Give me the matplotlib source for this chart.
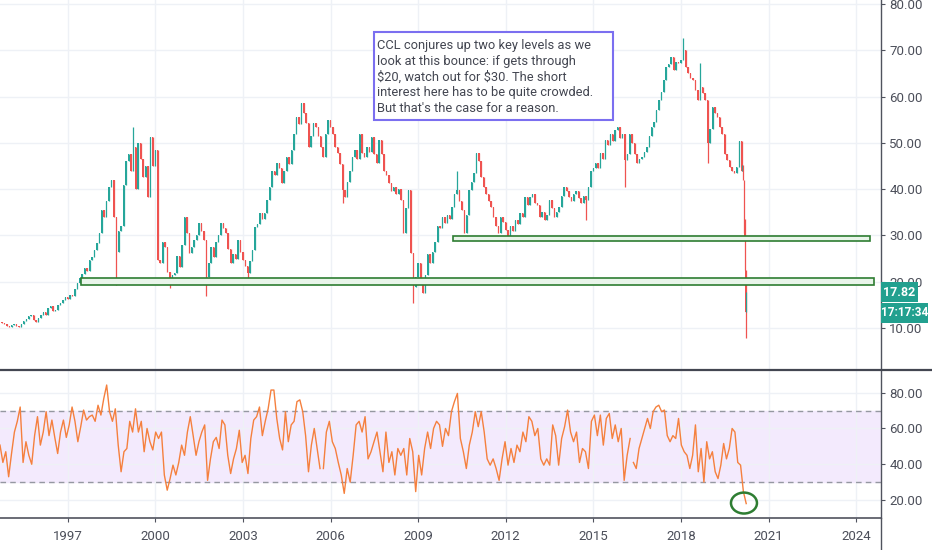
import matplotlib
matplotlib.use("Agg")
import matplotlib.pyplot as plt
import matplotlib.dates as mdates
from matplotlib.patches import Rectangle, Ellipse
from matplotlib.lines import Line2D
import numpy as np
import pandas as pd

# ---- data ----
# monthly closes, Sep 1994 .. Jan 2020
closes = [
    11.0, 10.8, 10.5, 10.2, 10.6, 10.9, 10.4, 10.2, 10.9, 11.5, 11.9, 12.5,
    12.8, 11.8, 11.3, 12.2, 12.9, 13.4, 12.7, 14.3, 14.8, 13.6, 13.9, 14.9,
    15.3, 16.0, 16.6, 16.2, 17.2, 17.0, 18.4, 19.7, 20.8, 21.6, 23.0, 22.4,
    24.6, 25.4, 26.8, 28.3, 30.5, 35.5, 34.0, 37.5, 40.5, 42.0, 34.0, 26.5,
    31.0, 32.0, 41.0, 46.0, 47.5, 44.0, 49.0, 40.0, 50.0, 46.5, 42.6, 45.0,
    38.3, 51.3, 45.0, 48.5, 24.7, 24.0, 28.5, 27.5, 22.0, 19.7, 21.5, 21.8,
    25.5, 23.2, 28.0, 34.0, 30.5, 26.2, 27.5, 29.0, 30.0, 32.7, 31.0, 29.0,
    21.0, 24.0, 27.5, 25.4, 28.5, 30.0, 32.6, 31.5, 30.5, 27.0, 24.0, 26.0,
    25.0, 29.0, 26.5, 24.7, 23.5, 21.8, 24.5, 26.8, 31.8, 32.5, 34.8, 33.5,
    34.8, 37.6, 40.5, 44.0, 43.0, 45.6, 44.5, 41.3, 44.0, 47.0, 45.5, 48.5,
    52.0, 55.6, 54.0, 58.6, 56.5, 54.3, 49.0, 51.5, 54.3, 53.5, 51.5, 49.0,
    47.0, 52.0, 55.0, 53.5, 52.0, 49.0, 47.8, 45.5, 39.8, 38.3, 41.5, 44.0,
    47.0, 48.5, 46.5, 52.0, 47.8, 47.0, 49.0, 48.0, 51.3, 47.5, 45.6, 50.6,
    47.5, 44.0, 43.0, 41.3, 39.5, 40.5, 39.0, 40.0, 37.6, 30.5, 36.0, 39.8,
    26.2, 18.9, 21.0, 24.0, 20.0, 17.5, 21.5, 26.0, 24.0, 26.5, 28.5, 32.0,
    31.5, 34.0, 32.6, 34.5, 33.5, 36.2, 39.0, 39.8, 37.5, 35.5, 30.5, 34.5,
    39.8, 41.5, 43.4, 47.8, 46.0, 42.6, 40.5, 39.0, 37.5, 36.2, 34.0, 32.0,
    30.5, 34.0, 33.0, 31.2, 29.8, 32.0, 31.0, 33.3, 32.5, 34.8, 34.0, 38.3,
    36.5, 38.3, 39.0, 37.0, 36.5, 34.0, 35.0, 33.3, 34.5, 37.6, 36.0, 34.0,
    35.0, 36.2, 38.5, 40.5, 39.5, 38.3, 37.5, 39.0, 39.5, 38.0, 37.0, 38.5,
    37.6, 40.5, 44.0, 44.5, 45.6, 44.5, 47.8, 46.5, 50.6, 49.5, 52.0, 50.5,
    52.8, 53.5, 51.0, 52.0, 46.3, 47.5, 52.0, 50.0, 47.5, 45.6, 46.5, 47.0,
    48.0, 49.0, 51.5, 53.5, 54.5, 57.0, 59.3, 61.0, 63.6, 66.4, 67.0, 68.5,
    65.7, 67.5, 67.2, 68.0, 70.0, 66.4, 65.0, 64.0, 63.6, 61.5, 59.3, 62.0,
    60.7, 59.3, 50.0, 53.0, 57.7, 56.5, 55.6, 53.5, 52.0, 47.5, 46.3, 44.8,
    44.0, 43.4, 44.8, 50.5, 44.0,
]
first_open = 11.2

# weekly bars of the 2020 crash
crash_dates = ['2020-02-07', '2020-02-14', '2020-02-21', '2020-02-28',
               '2020-03-06', '2020-03-13', '2020-03-20', '2020-03-27']
crash_closes = [45.2, 43.5, 42.0, 33.5, 29.0, 22.5, 13.5, 17.82]

# wicks that stick out of the bodies
wick_dates = ['1998-08-31', '1999-03-31', '2000-06-30', '2001-09-30', '2003-02-28',
              '2006-05-31', '2008-10-31', '2010-04-30', '2014-09-30', '2016-01-31',
              '2018-01-31', '2018-08-31', '2018-11-30', '2020-02-28', '2020-03-20']
wick_prices = [19.3, 53.5, 18.6, 17.0, 20.5, 37.0, 15.3, 44.0, 33.3, 40.5,
               72.7, 67.2, 45.6, 30.5, 7.8]

# weekly RSI, read in three stretches
rsi_a = [50.7, 41, 47, 33, 46, 58, 64, 72, 41, 52.6, 45, 40, 56, 66.6, 50.7, 58,
         69.4, 56, 64.7, 55, 46, 58, 64.7, 55, 62, 72, 64, 52.6, 61, 70.3, 64.7,
         66.6, 67.5, 64, 73, 67.5, 76.8, 84.3, 69.4, 64, 71, 50.7, 35.8, 47, 48.8,
         64, 58, 71, 58, 64, 47, 60, 52.6, 48, 58, 54.4, 58, 34, 25.5, 32, 39.5,
         34, 41, 50.7, 45, 58, 66.6, 56, 45, 52.6, 58, 62, 31, 43, 52.6, 55, 48.8,
         64.7, 62, 45, 34.8, 43, 48.8, 59, 41, 45, 34.8, 54.4, 64.7, 66.6, 72, 56,
         64, 71, 81.5, 81.5, 65.6, 54.4, 48, 69.4, 52.6, 62, 64, 75, 76, 69.4, 56,
         35.8, 50.7, 60, 48.8, 37.6]
rsi_b = [37.6, 58, 64, 52.6, 48.8, 41, 34, 23.7, 37.6, 30, 45, 62, 64, 58, 66.6,
         43, 47, 52.6, 58, 47, 35.8, 58, 41, 47, 34, 48.8, 45, 48.8, 34, 54.4, 47,
         24.7, 45, 34, 48.8, 58, 48.8, 60, 64, 62, 50, 60, 56, 69.4, 75, 79.6, 54.4,
         47, 37.6, 50.7, 58, 69.4, 61, 69.4, 58, 43, 39.5, 43, 37.6, 31, 43, 52.6,
         39.5, 48.8, 41, 50.7, 47, 58, 52.6, 66.6, 64, 56, 60, 43, 39.5, 43, 39.5,
         62, 56, 39.5, 54.4, 61, 70.3, 58, 52.6, 58, 41, 48.8, 47, 37.6, 64, 67.5,
         56, 67.5, 50.7, 65.6, 68.4, 54.4, 62, 52.6, 60, 31, 45, 54.4]
rsi_c = [41, 37.6, 48.8, 54.4, 60, 65.6, 60, 69.4, 72, 73, 69.4, 70.3, 56, 52.6,
         56, 54.4, 65.6, 50.7, 47, 45, 37.6, 45, 62, 35.8, 48.8, 30, 52.6, 43, 47,
         35.8, 32, 39.5, 51.6, 43, 48.8, 60, 58, 41, 39.5, 24.7, 18]
rsi_spans = [('1994-09-06', '2005-08-22'), ('2005-10-03', '2016-04-05'),
             ('2016-05-16', '2020-03-27')]

# support zones
zone_starts = ['1997-06-16', '2010-03-13']
zone_ends = ['2024-08-11', '2024-06-24']
zone_lows = [19.3, 28.8]
zone_highs = [20.9, 29.8]

last_price = 17.82
countdown = '17:17:34'
note = ["CCL conjures up two key levels as we",
        "look at this bounce: if gets through",
        "$20, watch out for $30. The short",
        "interest here has to be quite crowded.",
        "But that's the case for a reason."]

# ---- style ----
plt.rcParams['font.family'] = ['Roboto', 'DejaVu Sans']
UP, DN = '#26a69a', '#ef5350'
GRID = '#eef1f6'
TXT = '#4c4f5a'
LINE = '#50535e'
W, H = 932, 550

fig = plt.figure(figsize=(W / 100, H / 100), dpi=100)
ax = fig.add_axes([0, 1 - 369 / H, 881 / W, 369 / H])
rx = fig.add_axes([0, 1 - 518 / H, 881 / W, 148 / H])

x0, x1 = pd.Timestamp('1994-09-06'), pd.Timestamp('2024-11-07')
years = [pd.Timestamp(f'{y}-01-01') for y in range(1997, 2025, 3)]

# candles
dates = list(pd.date_range('1994-09-30', periods=len(closes), freq='ME')) + \
    list(pd.to_datetime(crash_dates))
c = np.array(closes + crash_closes, dtype=float)
o = np.r_[first_open, c[:-1]]
hi = np.maximum(o, c)
lo = np.minimum(o, c)
body_lo = lo.copy()
for d, p in zip(wick_dates, wick_prices):
    i = dates.index(pd.Timestamp(d))
    if p > hi[i]:
        hi[i] = p
    else:
        lo[i] = p
up = c >= o
cols = np.where(up, UP, DN)
xd = mdates.date2num(dates)
widths = [18] * len(closes) + [5] * len(crash_closes)

ax.vlines(xd, lo, hi, colors=cols, lw=0.9, zorder=3)
ax.bar(xd, np.maximum(np.abs(c - o), 0.2), bottom=body_lo, width=widths,
       color=cols, linewidth=0, zorder=3)

for s, e, l, h in zip(zone_starts, zone_ends, zone_lows, zone_highs):
    xs, xe = mdates.date2num(pd.Timestamp(s)), mdates.date2num(pd.Timestamp(e))
    ax.add_patch(Rectangle((xs, l), xe - xs, h - l, facecolor='#e9f5ea',
                           edgecolor='#2e7d32', lw=1.2, zorder=4))

ax.set_xlim(x0, x1)
ax.set_ylim(1.14, 80.86)
ax.set_yticks(range(10, 81, 10))
ax.set_xticks(years)
ax.grid(True, color=GRID, lw=1)
ax.set_axisbelow(True)
ax.tick_params(axis='x', length=0, labelbottom=False)

# RSI
for vals, (s, e) in zip([rsi_a, rsi_b, rsi_c], rsi_spans):
    rx.plot(pd.date_range(s, e, periods=len(vals)), vals, color='#f5803e', lw=1, zorder=3)
rx.axhspan(30, 70, color='#f3eafd', zorder=0)
for lvl in (30, 70):
    rx.axhline(lvl, color='#9598a1', lw=1, dashes=(4, 3), zorder=1)
rx.add_patch(Ellipse((mdates.date2num(pd.Timestamp('2020-02-28')), 18.3), 325, 11.7,
                     fill=False, edgecolor='#2e7d32', lw=1.8, zorder=5))
rx.set_xlim(x0, x1)
rx.set_ylim(9.94, 92.7)
rx.set_yticks([20, 40, 60, 80])
rx.set_xticks(years)
rx.set_xticklabels([str(y.year) for y in years])
rx.grid(True, color=GRID, lw=1)
rx.set_axisbelow(True)

for a in (ax, rx):
    a.yaxis.tick_right()
    a.yaxis.set_major_formatter(matplotlib.ticker.FormatStrFormatter('%.2f'))
    a.tick_params(axis='y', length=3, pad=3, labelsize=9.5, colors=LINE, labelcolor=TXT)
    for sp in ('left', 'top', 'bottom'):
        a.spines[sp].set_visible(False)
    a.spines['right'].set_color(LINE)
    a.spines['right'].set_linewidth(1)
rx.spines['bottom'].set_visible(True)
rx.spines['bottom'].set_color(LINE)
rx.spines['bottom'].set_linewidth(1.2)
rx.tick_params(axis='x', length=3, pad=6, labelsize=9.5, colors=LINE, labelcolor=TXT)

# pane separator and right axis line in the date strip
fig.add_artist(Line2D([0, 1], [1 - 369.5 / H] * 2, color='#434651', lw=1.6))
fig.add_artist(Line2D([881 / W] * 2, [0, 1 - 518 / H], color=LINE, lw=1))

# note box
fig.add_artist(Rectangle((374 / W, 1 - 120 / H), 239 / W, 88 / H, facecolor='white',
                         edgecolor='#7b6ff0', lw=1.5, transform=fig.transFigure, zorder=5))
for k, line in enumerate(note):
    fig.text(377 / W, 1 - (49.3 + 15.6 * k) / H, line, fontsize=9.3, color='#434651',
             va='baseline', ha='left', parse_math=False, zorder=6)

# last price tags
fig.add_artist(Rectangle((881 / W, 1 - 302 / H), 37 / W, 20 / H, facecolor='#22a08f',
                         lw=0, transform=fig.transFigure, zorder=5))
fig.text(899.5 / W, 1 - 292 / H, f'{last_price:.2f}', color='white', fontsize=9,
         ha='center', va='center', weight='bold', zorder=6)
fig.add_artist(Rectangle((881 / W, 1 - 323 / H), 47 / W, 20 / H, facecolor='#22a08f',
                         lw=0, transform=fig.transFigure, zorder=5))
fig.text(904.5 / W, 1 - 313 / H, countdown, color='white', fontsize=8.5,
         ha='center', va='center', weight='bold', zorder=6)

fig.savefig('out.png', dpi=100)
